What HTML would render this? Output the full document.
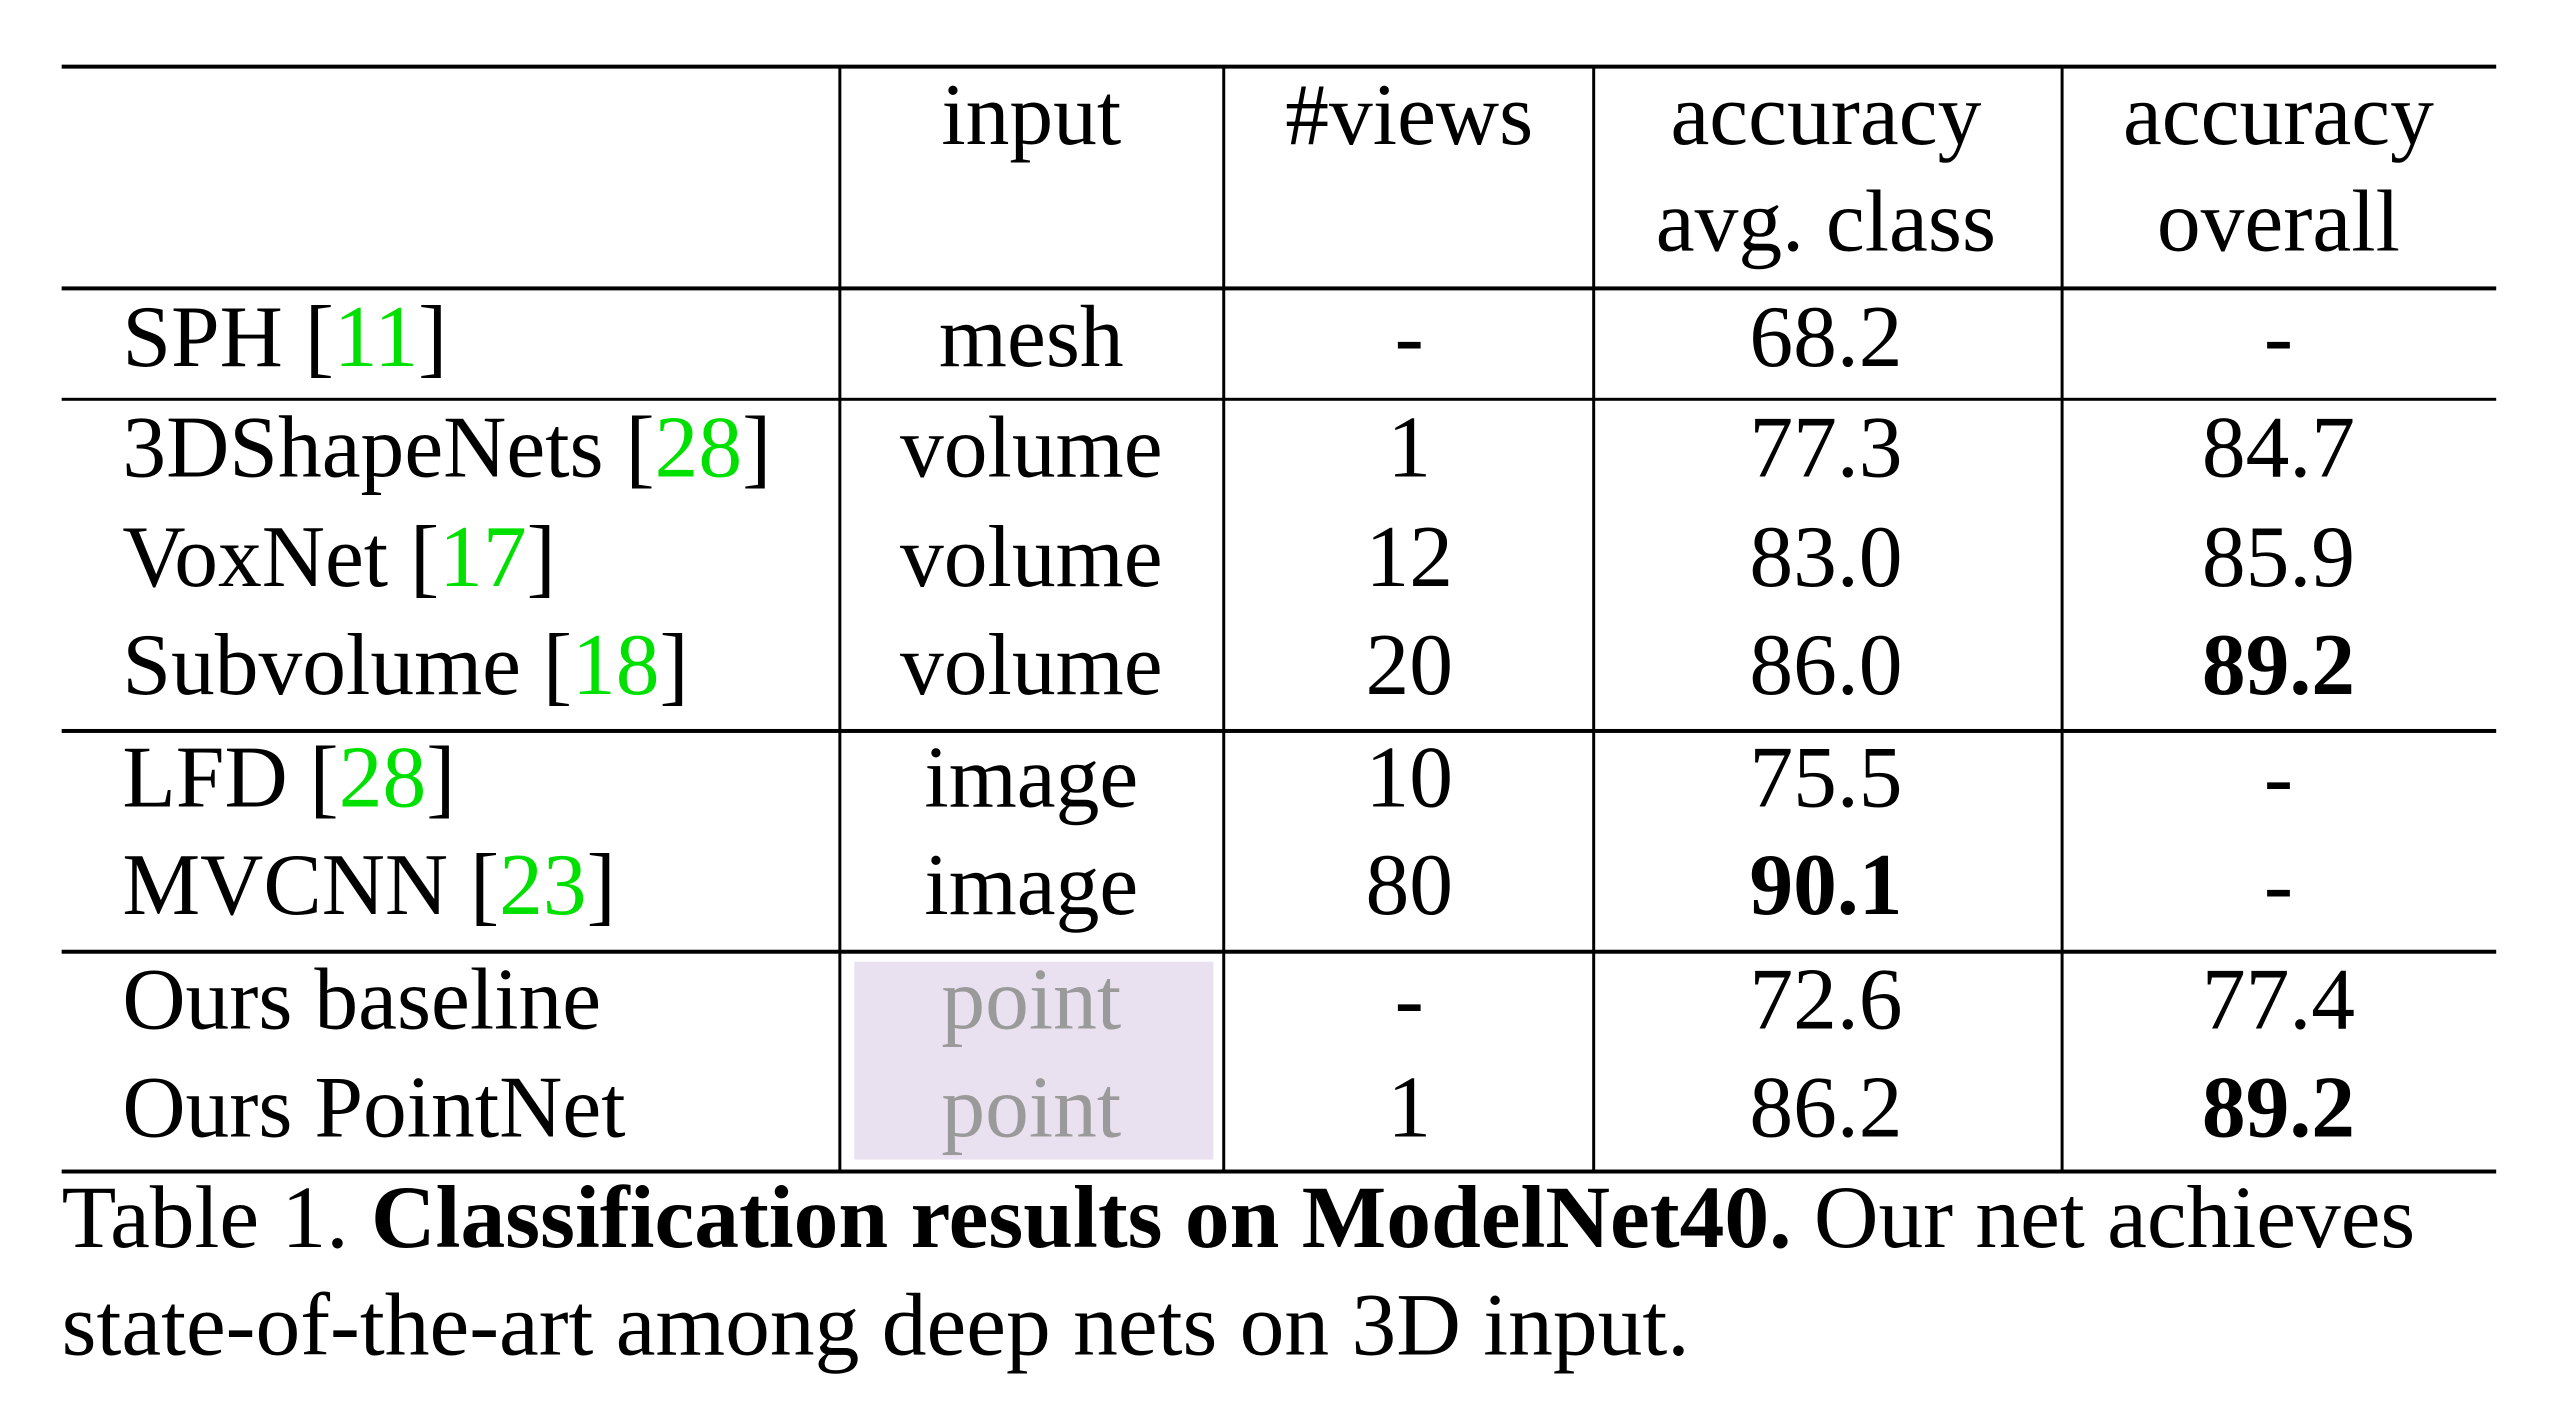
<!DOCTYPE html>
<html><head><meta charset="utf-8"><style>
html,body{margin:0;width:2552px;height:1420px;background:#fff;overflow:hidden}
#w{position:absolute;left:0;top:0;width:2552px;height:1420px;transform:scale(0.9945);transform-origin:0 0;font-family:"Liberation Serif",serif;color:#000}
.t{position:absolute;font-size:88px;line-height:88px;white-space:nowrap}
.c{transform:translateX(-50%)}
.h{position:absolute;left:62px;width:2448px;background:#000}
.v{position:absolute;width:3px;background:#000;top:67px;height:1111px}
.g{color:#00e000}
b{font-weight:bold}
.cap{font-size:90px;line-height:90px}
</style></head><body><div id="w">
<div class="h" style="top:65px;height:4px"></div>
<div class="h" style="top:288px;height:4px"></div>
<div class="h" style="top:400px;height:3px"></div>
<div class="h" style="top:733px;height:4px"></div>
<div class="h" style="top:955px;height:4px"></div>
<div class="h" style="top:1176px;height:4px"></div>
<div class="v" style="left:843px"></div>
<div class="v" style="left:1229px"></div>
<div class="v" style="left:1601px"></div>
<div class="v" style="left:2072px"></div>
<div style="position:absolute;left:859px;top:967px;width:361px;height:199px;background:#e9e1ef"></div>

<div class="t c" style="left:1037px;top:73px">input</div>
<div class="t c" style="left:1417px;top:73px">#views</div>
<div class="t c" style="left:1836px;top:73px">accuracy</div>
<div class="t c" style="left:1836px;top:180px">avg. class</div>
<div class="t c" style="left:2291px;top:73px">accuracy</div>
<div class="t c" style="left:2291px;top:180px">overall</div>

<div class="t" style="left:123px;top:296px">SPH [<span class="g">11</span>]</div>
<div class="t c" style="left:1037px;top:296px">mesh</div>
<div class="t c" style="left:1417px;top:296px">-</div>
<div class="t c" style="left:1836px;top:296px">68.2</div>
<div class="t c" style="left:2291px;top:296px">-</div>

<div class="t" style="left:123px;top:407px">3DShapeNets [<span class="g">28</span>]</div>
<div class="t c" style="left:1037px;top:407px">volume</div>
<div class="t c" style="left:1417px;top:407px">1</div>
<div class="t c" style="left:1836px;top:407px">77.3</div>
<div class="t c" style="left:2291px;top:407px">84.7</div>

<div class="t" style="left:123px;top:517px">VoxNet [<span class="g">17</span>]</div>
<div class="t c" style="left:1037px;top:517px">volume</div>
<div class="t c" style="left:1417px;top:517px">12</div>
<div class="t c" style="left:1836px;top:517px">83.0</div>
<div class="t c" style="left:2291px;top:517px">85.9</div>

<div class="t" style="left:123px;top:626px">Subvolume [<span class="g">18</span>]</div>
<div class="t c" style="left:1037px;top:626px">volume</div>
<div class="t c" style="left:1417px;top:626px">20</div>
<div class="t c" style="left:1836px;top:626px">86.0</div>
<div class="t c" style="left:2291px;top:626px"><b>89.2</b></div>

<div class="t" style="left:123px;top:739px">LFD [<span class="g">28</span>]</div>
<div class="t c" style="left:1037px;top:739px">image</div>
<div class="t c" style="left:1417px;top:739px">10</div>
<div class="t c" style="left:1836px;top:739px">75.5</div>
<div class="t c" style="left:2291px;top:739px">-</div>

<div class="t" style="left:123px;top:847px">MVCNN [<span class="g">23</span>]</div>
<div class="t c" style="left:1037px;top:847px">image</div>
<div class="t c" style="left:1417px;top:847px">80</div>
<div class="t c" style="left:1836px;top:847px"><b>90.1</b></div>
<div class="t c" style="left:2291px;top:847px">-</div>

<div class="t" style="left:123px;top:962px">Ours baseline</div>
<div class="t c" style="left:1037px;top:962px;color:#9a9a9a">point</div>
<div class="t c" style="left:1417px;top:962px">-</div>
<div class="t c" style="left:1836px;top:962px">72.6</div>
<div class="t c" style="left:2291px;top:962px">77.4</div>

<div class="t" style="left:123px;top:1071px">Ours PointNet</div>
<div class="t c" style="left:1037px;top:1071px;color:#9a9a9a">point</div>
<div class="t c" style="left:1417px;top:1071px">1</div>
<div class="t c" style="left:1836px;top:1071px">86.2</div>
<div class="t c" style="left:2291px;top:1071px"><b>89.2</b></div>

<div class="t cap" style="left:62px;top:1180px">Table 1. <b>Classification results on ModelNet40.</b> Our net achieves</div>
<div class="t cap" style="left:62px;top:1288px">state-of-the-art among deep nets on 3D input.</div>
</div></body></html>
